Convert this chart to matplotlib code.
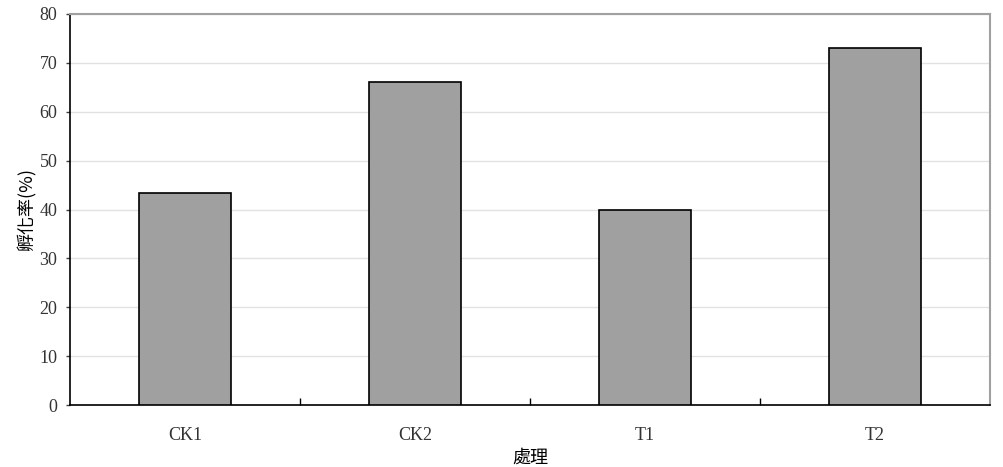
import numpy as np
import matplotlib
matplotlib.use("Agg")
import matplotlib.pyplot as plt

categories = ["CK1", "CK2", "T1", "T2"]
values = [43.3, 66.0, 40.0, 73.0]
y_ticks = [0, 10, 20, 30, 40, 50, 60, 70, 80]

cjk = ["Noto Sans CJK TC", "DejaVu Sans"]
plt.rcParams["font.family"] = ["Liberation Serif", "Noto Sans CJK TC"]

fig = plt.figure(figsize=(10.04, 4.67), dpi=100)
ax = fig.add_axes([70 / 1004, 62 / 467, 920 / 1004, 391 / 467])

x = np.arange(len(categories))
ax.bar(x, values, width=0.4, color="#a0a0a0", edgecolor="black", linewidth=1.2, zorder=3)

ax.set_xlim(-0.5, len(categories) - 0.5)
ax.set_ylim(0, 80)
ax.set_yticks(y_ticks)
ax.yaxis.grid(True, color="#e2e2e2", linewidth=1, zorder=0)

# category labels without ticks, separators between categories
ax.set_xticks(x)
ax.set_xticklabels(categories, fontsize=13)
ax.tick_params(axis="x", length=0, pad=16, labelcolor="#333333")
ax.set_xticks(x[:-1] + 0.5, minor=True)
ax.tick_params(axis="x", which="minor", direction="in", length=5, width=1)
ax.tick_params(axis="y", labelsize=13, length=3, width=1, colors="#404040", pad=6)
ax.tick_params(axis="y", labelcolor="#333333")

for s in ["top", "right"]:
    ax.spines[s].set_color("#a0a0a0")
    ax.spines[s].set_linewidth(1.5)
for s in ["left", "bottom"]:
    ax.spines[s].set_color("black")
    ax.spines[s].set_linewidth(1.2)

ax.set_ylabel("孵化率(%)", family=cjk, fontsize=13, labelpad=2)
ax.set_xlabel("處理", family=cjk, fontsize=13, labelpad=3)

fig.savefig("out.png", dpi=100)
